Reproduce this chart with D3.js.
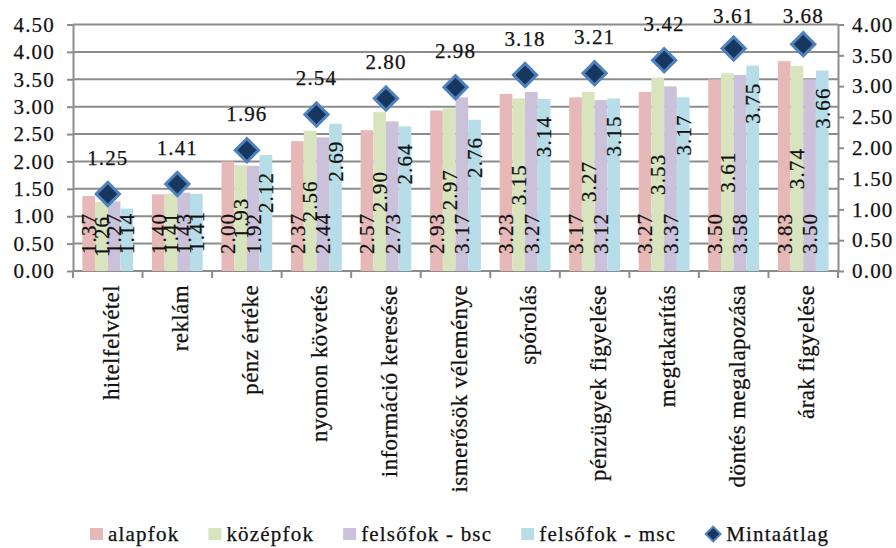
<!DOCTYPE html>
<html lang="hu">
<head>
<meta charset="UTF-8">
<title>Pénzügyi tudatosság</title>
<style>
    body { margin: 0; background: white; }
</style>
</head>
<body>
<div id="chart"></div>
<script src="https://d3js.org/d3.v7.min.js"></script>
<script>
    // Data
    const categories = ["hitelfelvétel", "reklám", "pénz értéke", "nyomon követés", "információ keresése",
        "ismerősök véleménye", "spórolás", "pénzügyek figyelése", "megtakarítás", "döntés megalapozása", "árak figyelése"];
    const alapfok = [1.37, 1.40, 2.00, 2.37, 2.57, 2.93, 3.23, 3.17, 3.27, 3.50, 3.83];
    const kozepfok = [1.26, 1.41, 1.93, 2.56, 2.90, 2.97, 3.15, 3.27, 3.53, 3.61, 3.74];
    const felsofokBsc = [1.27, 1.43, 1.92, 2.44, 2.73, 3.17, 3.27, 3.12, 3.37, 3.58, 3.50];
    const felsofokMsc = [1.14, 1.41, 2.12, 2.69, 2.64, 2.76, 3.14, 3.15, 3.17, 3.75, 3.66];
    const mintaatlag = [1.25, 1.41, 1.96, 2.54, 2.80, 2.98, 3.18, 3.21, 3.42, 3.61, 3.68];
    const seriesNames = ["alapfok", "középfok", "felsőfok - bsc", "felsőfok - msc"];
    const meanName = "Mintaátlag";
    const leftTicks = [0, 0.5, 1, 1.5, 2, 2.5, 3, 3.5, 4, 4.5];
    const rightTicks = [0, 0.5, 1, 1.5, 2, 2.5, 3, 3.5, 4];

    const series = [alapfok, kozepfok, felsofokBsc, felsofokMsc];
    const colors = ["#E6B9B8", "#D7E4BD", "#CCC1DA", "#B7DEE8"];
    const labelPos = ["base", "center", "base", "end"];

    const width = 896, height = 548;
    const plot = { left: 73, right: 838, top: 24.5, bottom: 271 };
    const gridColor = "#8c8c8c";

    // text styling helper (inline styles so the serif face is really used)
    const serifText = (sel, size, spacing) => sel
        .style("font-family", '"Liberation Serif"')
        .style("font-size", size + "px")
        .style("letter-spacing", spacing + "px")
        .attr("fill", "#111")
        .attr("stroke", "#111")
        .attr("stroke-width", 0.25);

    const svg = d3.select("#chart").append("svg")
        .attr("width", width)
        .attr("height", height);

    const x0 = d3.scaleBand().domain(categories)
        .range([plot.left, plot.right])
        .paddingInner(0.27).paddingOuter(0.135);
    const x1 = d3.scaleBand().domain(d3.range(series.length))
        .range([0, x0.bandwidth()]);
    const yL = d3.scaleLinear().domain([0, 4.5]).range([plot.bottom, plot.top]);
    const yR = d3.scaleLinear().domain([0, 4]).range([plot.bottom, plot.top]);
    const fmt = d3.format(".2f");

    // gridlines
    svg.append("g").selectAll("line")
        .data(leftTicks)
        .join("line")
        .attr("x1", plot.left).attr("x2", plot.right)
        .attr("y1", d => yL(d)).attr("y2", d => yL(d))
        .attr("stroke", gridColor).attr("stroke-width", 2);

    // axes
    const styleAxis = g => {
        g.selectAll(".domain").attr("stroke", gridColor).attr("stroke-width", 2);
        g.selectAll(".tick line").attr("stroke", gridColor).attr("stroke-width", 2);
        g.selectAll(".tick text").call(serifText, 21, 1.2);
    };
    svg.append("g")
        .attr("transform", `translate(${plot.left},0)`)
        .call(d3.axisLeft(yL).tickValues(leftTicks).tickFormat(fmt).tickSizeInner(6).tickSizeOuter(0).tickPadding(12))
        .call(styleAxis);
    svg.append("g")
        .attr("transform", `translate(${plot.right},0)`)
        .call(d3.axisRight(yR).tickValues(rightTicks).tickFormat(fmt).tickSizeInner(6).tickSizeOuter(0).tickPadding(8))
        .call(styleAxis);

    // category axis with ticks between groups
    const half = (x0.step() - x0.bandwidth()) / 2;
    const bounds = categories.map(c => x0(c) - half).concat([plot.right]);
    const xAxis = svg.append("g");
    xAxis.append("line")
        .attr("x1", plot.left).attr("x2", plot.right)
        .attr("y1", plot.bottom).attr("y2", plot.bottom)
        .attr("stroke", gridColor).attr("stroke-width", 2);
    xAxis.selectAll(".xt").data(bounds).join("line")
        .attr("x1", d => d).attr("x2", d => d)
        .attr("y1", plot.bottom).attr("y2", plot.bottom + 7)
        .attr("stroke", gridColor).attr("stroke-width", 2);
    xAxis.selectAll(".cat").data(categories).join("text")
        .attr("class", "cat")
        .call(serifText, 23, 0.4)
        .attr("transform", d => `translate(${x0(d) + x0.bandwidth() / 2 + 3},${plot.bottom + 14}) rotate(-90)`)
        .attr("text-anchor", "end")
        .attr("dy", "0.35em")
        .text(d => d);

    // bars
    const groups = svg.append("g").selectAll("g")
        .data(categories)
        .join("g")
        .attr("transform", d => `translate(${x0(d)},0)`);

    groups.selectAll("rect")
        .data((d, i) => series.map((s, k) => ({ k, v: s[i] })))
        .join("rect")
        .attr("x", d => x1(d.k))
        .attr("width", x1.bandwidth())
        .attr("y", d => yL(d.v))
        .attr("height", d => plot.bottom - yL(d.v))
        .attr("fill", d => colors[d.k]);

    // bar value labels
    const pad = 17;
    groups.selectAll(".lbl")
        .data((d, i) => series.map((s, k) => ({ k, v: s[i] })))
        .join("text")
        .attr("class", "lbl")
        .call(serifText, 21, 1.1)
        .attr("dy", "0.35em")
        .text(d => fmt(d.v))
        .each(function (d) {
            const len = this.getComputedTextLength();
            const cx = x1(d.k) + x1.bandwidth() / 2;
            let y;
            if (labelPos[d.k] === "base") {
                y = plot.bottom - pad;
            } else if (labelPos[d.k] === "center") {
                y = (yL(d.v) + plot.bottom) / 2 + len / 2;
            } else {
                y = Math.min(yL(d.v) + pad + len, plot.bottom - pad);
            }
            d3.select(this)
                .attr("text-anchor", "start")
                .attr("transform", `translate(${cx},${y}) rotate(-90)`);
        });

    // sample mean markers (secondary axis)
    const diamond = d3.symbol().type(d3.symbolSquare).size(270);
    const means = svg.append("g");
    means.selectAll("path")
        .data(mintaatlag)
        .join("path")
        .attr("d", diamond)
        .attr("transform", (d, i) => `translate(${x0(categories[i]) + x0.bandwidth() / 2},${yR(d)}) rotate(45)`)
        .attr("fill", "#17375E")
        .attr("stroke", "#4F81BD")
        .attr("stroke-width", 3);
    means.selectAll("text")
        .data(mintaatlag)
        .join("text")
        .call(serifText, 21, 1.1)
        .attr("text-anchor", "middle")
        .attr("x", (d, i) => x0(categories[i]) + x0.bandwidth() / 2)
        .attr("y", d => Math.max(yR(d) - 29, 23))
        .text(d => fmt(d));

    // legend
    const legend = svg.append("g");
    const legY = 534;
    let lx = 90;
    seriesNames.concat([meanName]).forEach((name, i) => {
        if (i < series.length) {
            legend.append("rect")
                .attr("x", lx).attr("y", legY - 6)
                .attr("width", 13).attr("height", 12)
                .attr("fill", colors[i]);
        } else {
            legend.append("path")
                .attr("d", d3.symbol().type(d3.symbolSquare).size(110))
                .attr("transform", `translate(${lx + 8},${legY}) rotate(45)`)
                .attr("fill", "#17375E")
                .attr("stroke", "#4F81BD")
                .attr("stroke-width", 2);
            lx += 3;
        }
        const t = legend.append("text")
            .call(serifText, 21, 1.2)
            .attr("x", lx + 18)
            .attr("y", legY + 7)
            .text(name);
        lx += 18 + t.node().getComputedTextLength() + 29;
    });
</script>
</body>
</html>
